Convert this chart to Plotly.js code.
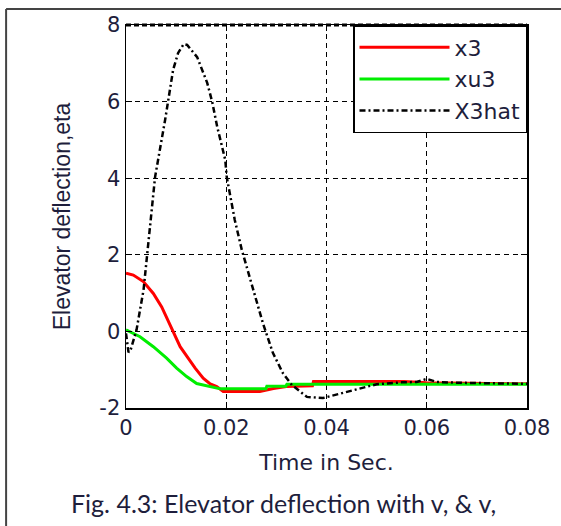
<!DOCTYPE html>
<html>
<head>
<meta charset="utf-8">
<script src="https://cdn.plot.ly/plotly-3.0.1.min.js"></script>
<style>html,body{margin:0;padding:0;background:#fff;}#chart{width:561px;height:526px;}</style>
</head>
<body>
<div id="chart"></div>
<script>
// x3 (red)
const tX3 = [0, 0.00146, 0.00346, 0.00545, 0.00712, 0.00845, 0.00945, 0.0108, 0.0124, 0.0138, 0.0154, 0.0168, 0.0181, 0.0194, 0.0267, 0.0281, 0.0294, 0.032, 0.0372, 0.0374, 0.0555, 0.06, 0.07, 0.08];
const x3  = [1.52, 1.47, 1.30, 0.99, 0.64, 0.27, -0.02, -0.40, -0.70, -0.96, -1.22, -1.37, -1.44, -1.57, -1.57, -1.53, -1.49, -1.44, -1.42, -1.31, -1.31, -1.34, -1.36, -1.37];
// xu3 (green)
const tXu3 = [0, 0.0028, 0.00545, 0.0081, 0.0101, 0.0121, 0.0141, 0.0168, 0.0188, 0.0279, 0.0281, 0.0319, 0.0321, 0.05, 0.08];
const xu3  = [0.04, -0.14, -0.40, -0.70, -0.96, -1.18, -1.36, -1.44, -1.50, -1.50, -1.43, -1.43, -1.38, -1.38, -1.38];
// X3hat (black dash-dot)
const tHat = [0, 0.0005, 0.001, 0.0021, 0.0035, 0.0047, 0.0058, 0.0078, 0.0084, 0.0094, 0.0104, 0.0115, 0.0122, 0.0142, 0.0162, 0.0172, 0.0182, 0.0198, 0.0201, 0.0217, 0.0231, 0.0253, 0.0273, 0.0293, 0.0313, 0.0331, 0.0361, 0.0393, 0.0433, 0.047, 0.05, 0.055, 0.058, 0.06, 0.062, 0.066, 0.07, 0.075, 0.08];
const x3hat = [-0.05, -0.55, -0.45, 0.04, 1.08, 2.6, 4.03, 5.52, 6.04, 6.83, 7.27, 7.5, 7.48, 7.16, 6.49, 5.99, 5.34, 4.48, 4.03, 2.91, 2.13, 1.16, 0.22, -0.56, -1.09, -1.40, -1.71, -1.74, -1.61, -1.48, -1.38, -1.33, -1.32, -1.24, -1.32, -1.34, -1.35, -1.37, -1.37];

const xTicks = [0, 0.02, 0.04, 0.06, 0.08];
const xTickText = ['0', '0.02', '0.04', '0.06', '0.08'];
const yTicks = [-2, 0, 2, 4, 6, 8];
const yTickText = ['-2', '0', '2', '4', '6', '8'];

const txt = '#1e1e3c';
const traces = [
  {x: tX3, y: x3, name: 'x3', mode: 'lines', line: {color: '#ff0000', width: 3}},
  {x: tXu3, y: xu3, name: 'xu3', mode: 'lines', line: {color: '#00ee00', width: 3}},
  {x: tHat, y: x3hat, name: 'X3hat', mode: 'lines', line: {color: '#000000', width: 2.5, dash: '6px,3px,2px,3px'}}
];

const axisCommon = {
  showline: true, linecolor: '#000', linewidth: 1.5, mirror: 'ticks',
  ticks: 'inside', ticklen: 6, tickcolor: '#000', tickwidth: 1,
  showgrid: true, gridcolor: '#000', gridwidth: 1, griddash: '5px,4px',
  zeroline: false,
  tickfont: {family: 'DejaVu Sans', size: 21, color: txt}
};

const layout = {
  width: 561, height: 526,
  margin: {l: 126, r: 34, t: 25, b: 118},
  paper_bgcolor: '#fff', plot_bgcolor: '#fff',
  showlegend: true,
  legend: {x: 1, y: 1, xanchor: 'right', yanchor: 'top', bgcolor: '#fff',
           bordercolor: '#000', borderwidth: 1.5, itemwidth: 90,
           font: {family: 'DejaVu Sans', size: 22, color: txt}},
  xaxis: Object.assign({}, axisCommon, {
    range: [0, 0.08], tickvals: xTicks, ticktext: xTickText,
    title: {text: 'Time in Sec.', font: {family: 'DejaVu Sans', size: 22, color: txt}, standoff: 16}
  }),
  yaxis: Object.assign({}, axisCommon, {
    range: [-2, 8], tickvals: yTicks, ticktext: yTickText,
    title: {text: 'Elevator deflection,eta', font: {family: 'Liberation Sans', size: 23, color: txt}, standoff: 22}
  }),
  shapes: [
    {type: 'line', xref: 'paper', yref: 'paper', x0: 0, x1: 1, y0: 1, y1: 1,
     line: {color: '#000', width: 3, dash: '5px,3px'}},
    {type: 'line', xref: 'paper', yref: 'paper', x0: -0.299, x1: -0.299, y0: 1.0418, y1: -0.31,
     line: {color: '#444', width: 2}},
    {type: 'line', xref: 'paper', yref: 'paper', x0: -0.299, x1: 1.09, y0: 1.0418, y1: 1.0418,
     line: {color: '#444', width: 2}}
  ],
  annotations: [
    {xref: 'paper', yref: 'paper', x: -0.141, y: -0.248, xanchor: 'left', yanchor: 'middle', showarrow: false,
     text: 'Fig. 4.3: Elevator deflection with v, & v,',
     font: {family: 'Lato', size: 25, color: txt}}
  ]
};

Plotly.newPlot('chart', traces, layout, {displayModeBar: false, staticPlot: true});
</script>
</body>
</html>
